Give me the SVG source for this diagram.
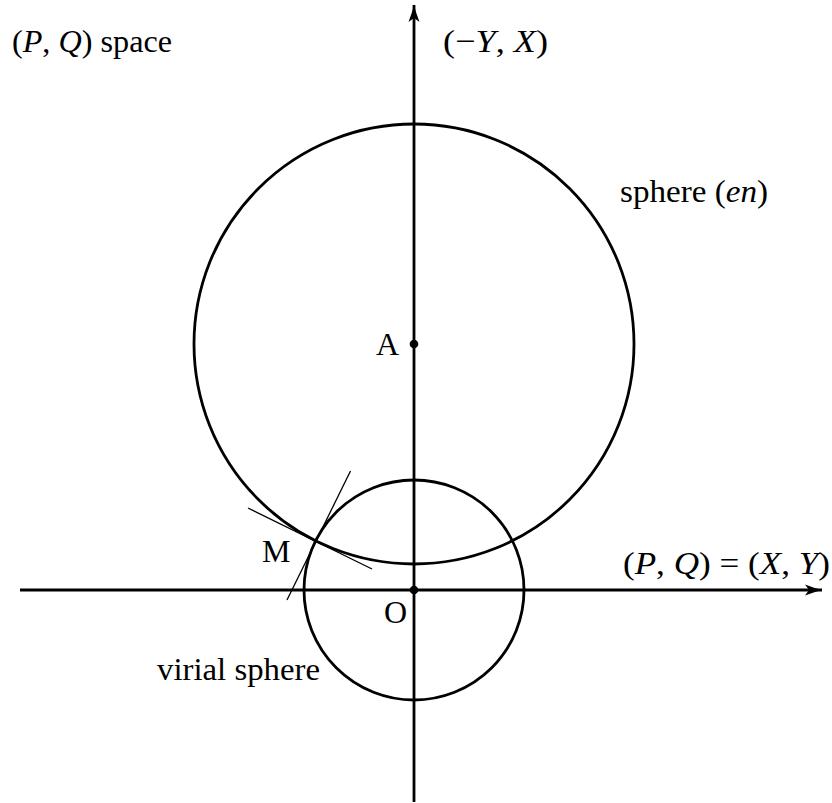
<svg xmlns="http://www.w3.org/2000/svg" width="832" height="803" viewBox="0 0 832 803">
<style>
.thick{fill:none;stroke:#000;stroke-width:2.8}
.thin{fill:none;stroke:#000;stroke-width:1.3}
text{font-family:"Liberation Serif","Times New Roman",serif;font-size:32px;fill:#000}
.i{font-style:italic}
</style>
<defs>
<marker id="arr" markerWidth="18" markerHeight="12" refX="17" refY="6" orient="auto" markerUnits="userSpaceOnUse">
<path d="M0,0.5 Q9,4 17,6 Q9,8 0,11.5 L4,6 Z" fill="#000"/>
</marker>
</defs>
<rect width="832" height="803" fill="#fff"/>
<g id="connectors">
<line class="thick" x1="20" y1="590" x2="822" y2="590" marker-end="url(#arr)"/>
<line class="thick" x1="414" y1="802" x2="414" y2="5" marker-end="url(#arr)"/>
<line class="thin" x1="248" y1="508" x2="372" y2="569"/>
<line class="thin" x1="287" y1="600" x2="350.5" y2="471"/>
</g>
<g id="sphere-en">
<circle class="thick" cx="414" cy="344" r="220"/>
<text x="620" y="202" textLength="148" lengthAdjust="spacingAndGlyphs">sphere (<tspan class="i">en</tspan>)</text>
</g>
<g id="virial-sphere">
<circle class="thick" cx="414" cy="590" r="110"/>
<text x="157" y="680" textLength="163" lengthAdjust="spacingAndGlyphs">virial sphere</text>
</g>
<g id="A">
<circle cx="414" cy="344" r="4.3" fill="#000"/>
<text x="376" y="355">A</text>
</g>
<g id="O">
<circle cx="414" cy="590" r="4.3" fill="#000"/>
<text x="384" y="623">O</text>
</g>
<g id="M">
<text x="262" y="562">M</text>
</g>
<g id="labels">
<text x="12" y="52" textLength="160" lengthAdjust="spacingAndGlyphs">(<tspan class="i">P</tspan>, <tspan class="i">Q</tspan>) space</text>
<text x="443" y="52" textLength="105" lengthAdjust="spacingAndGlyphs">(−<tspan class="i">Y</tspan>, <tspan class="i">X</tspan>)</text>
<text x="623" y="574" textLength="207" lengthAdjust="spacingAndGlyphs">(<tspan class="i">P</tspan>, <tspan class="i">Q</tspan>) = (<tspan class="i">X</tspan>, <tspan class="i">Y</tspan>)</text>
</g>
</svg>
